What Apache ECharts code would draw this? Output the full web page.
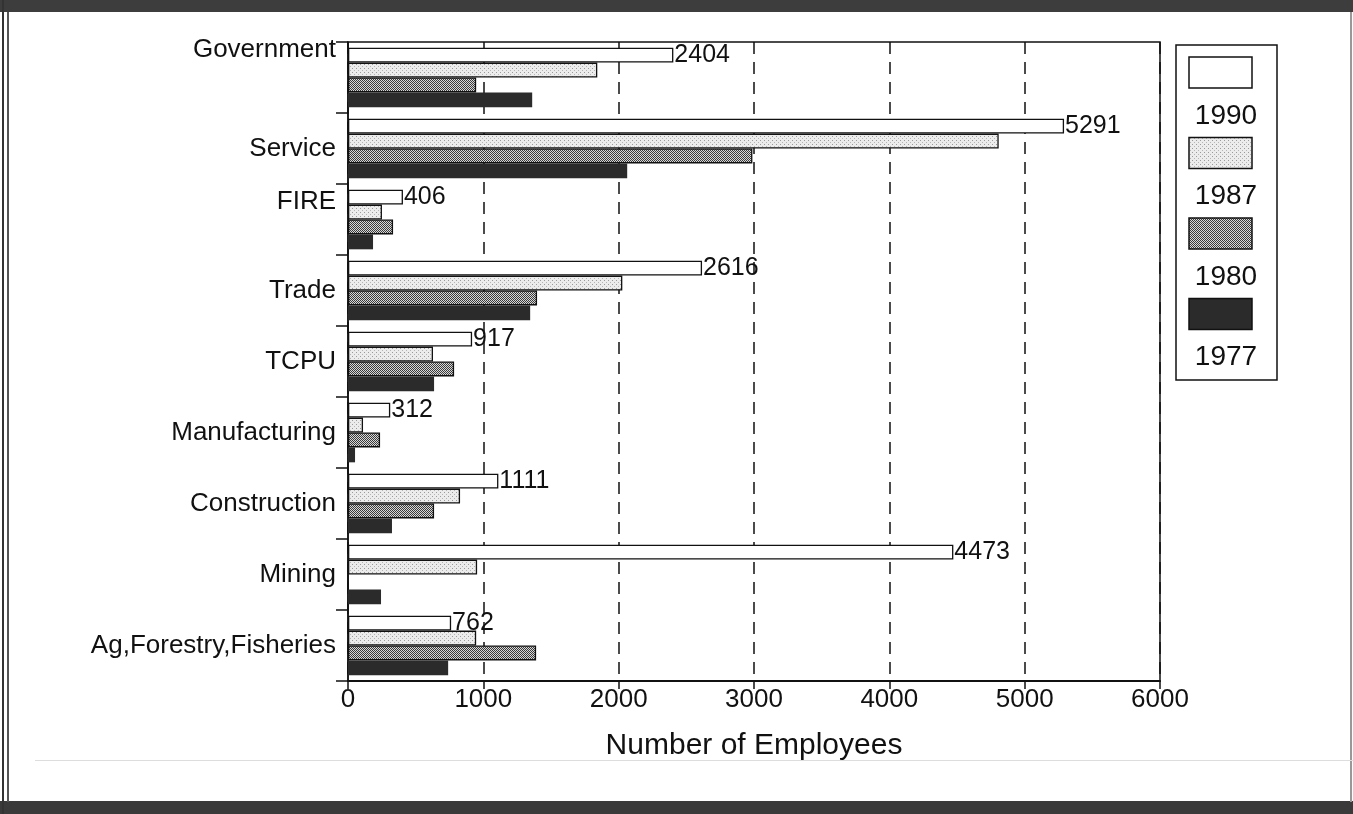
<!DOCTYPE html>
<html>
<head>
<meta charset="utf-8">
<script src="https://cdn.jsdelivr.net/npm/echarts@6/dist/echarts.min.js"></script>
<style>
  html, body { margin: 0; padding: 0; background: #fff; }
  #chart { width: 1353px; height: 814px; }
</style>
</head>
<body>
<div id="chart"></div>
<script>
// categories, bottom to top as drawn on the y axis
var categories = ['Ag,Forestry,Fisheries', 'Mining', 'Construction', 'Manufacturing', 'TCPU', 'Trade', 'FIRE', 'Service', 'Government']
var years = ['1990', '1987', '1980', '1977']
var v1990 = [762, 4473, 1111, 312, 917, 2616, 406, 5291, 2404]
var v1987 = [947, 954, 828, 111, 628, 2027, 251, 4808, 1842]
var v1980 = [1390, 0, 636, 237, 784, 1397, 333, 2988, 947]
var v1977 = [740, 244, 325, 52, 636, 1346, 185, 2063, 1361]
var xTicks = [0, 1000, 2000, 3000, 4000, 5000, 6000]

var font = 'Liberation Sans, Arial, Helvetica, sans-serif'

// little canvas textures for the hatched fills
function makePattern (size, bg, dots) {
  var c = document.createElement('canvas')
  c.width = size
  c.height = size
  var ctx = c.getContext('2d')
  ctx.fillStyle = bg
  ctx.fillRect(0, 0, size, size)
  dots.forEach(function (d) {
    ctx.fillStyle = d[2]
    ctx.fillRect(d[0], d[1], 1, 1)
  })
  return c
}
var dotted = makePattern(4, '#ececec', [[0, 0, '#9a9a9a'], [2, 2, '#b5b5b5']])
var checker = makePattern(2, '#d8d8d8', [[0, 0, '#3a3a3a'], [1, 1, '#3a3a3a']])

var fills = {
  '1990': '#ffffff',
  '1987': { image: dotted, repeat: 'repeat' },
  '1980': { image: checker, repeat: 'repeat' },
  '1977': '#2b2b2b'
}
var values = { '1990': v1990, '1987': v1987, '1980': v1980, '1977': v1977 }

var chart = echarts.init(document.getElementById('chart'))

// first series ends up on top inside each category
var series = years.map(function (y) {
  return {
    name: y,
    type: 'bar',
    barGap: 0,
    barCategoryGap: '16%',
    data: values[y],
    itemStyle: {
      color: fills[y],
      borderColor: '#111',
      borderWidth: y === '1977' ? 0 : 1.3
    },
    label: {
      show: y === '1990',
      position: 'right',
      distance: 1,
      color: '#111',
      fontFamily: font,
      fontSize: 25
    },
    silent: true
  }
})

// hand-drawn legend: swatch above the year, like the original
var legendItems = []
legendItems.push({
  type: 'rect',
  shape: { x: 1176, y: 45, width: 101, height: 335 },
  style: { fill: '#fff', stroke: '#111', lineWidth: 1.5 }
})
years.forEach(function (y, i) {
  var top = 57 + i * 80.5
  legendItems.push({
    type: 'rect',
    shape: { x: 1189, y: top, width: 63, height: 31 },
    style: { fill: fills[y], stroke: '#111', lineWidth: 1.5 }
  })
  legendItems.push({
    type: 'text',
    x: 1226,
    y: top + 59,
    style: {
      text: y,
      fill: '#111',
      font: '28px ' + font,
      textAlign: 'center',
      textVerticalAlign: 'middle'
    }
  })
})

// page frame bits (scan borders)
var frame = [
  { type: 'rect', shape: { x: 0, y: 0, width: 1353, height: 12 }, style: { fill: '#3d3d3d' } },
  { type: 'rect', shape: { x: 0, y: 801, width: 1353, height: 13 }, style: { fill: '#3a3a3a' } },
  { type: 'rect', shape: { x: 2, y: 0, width: 2, height: 814 }, style: { fill: '#333' } },
  { type: 'rect', shape: { x: 7, y: 12, width: 2, height: 790 }, style: { fill: '#555' } },
  { type: 'rect', shape: { x: 1350, y: 12, width: 2, height: 790 }, style: { fill: '#999' } },
  { type: 'rect', shape: { x: 35, y: 760, width: 1318, height: 1 }, style: { fill: '#ddd' } }
]

var option = {
  backgroundColor: '#fff',
  animation: false,
  grid: {
    left: 348,
    right: 193,
    top: 42,
    bottom: 133,
    show: true,
    borderColor: '#111',
    borderWidth: 1.5,
    backgroundColor: 'transparent'
  },
  xAxis: {
    type: 'value',
    min: xTicks[0],
    max: xTicks[xTicks.length - 1],
    interval: 1000,
    name: 'Number of Employees',
    nameLocation: 'middle',
    nameGap: 50,
    nameTextStyle: { color: '#111', fontFamily: font, fontSize: 30 },
    axisLine: { show: true, lineStyle: { color: '#111', width: 2 } },
    axisTick: { show: true, length: 8, lineStyle: { color: '#111', width: 1.5 } },
    axisLabel: {
      color: '#111',
      fontFamily: font,
      fontSize: 26,
      margin: 6,
      formatter: function (v) { return String(v) }
    },
    splitLine: { show: true, lineStyle: { color: '#111', type: [12, 8], width: 1.5 } }
  },
  yAxis: {
    type: 'category',
    data: categories,
    axisLine: { show: true, lineStyle: { color: '#111', width: 1.5 } },
    axisTick: { show: true, length: 12, lineStyle: { color: '#111', width: 1.5 } },
    axisLabel: {
      color: '#111',
      fontFamily: font,
      fontSize: 26,
      margin: 12,
      // in the original, two labels are set higher than the row centre
      formatter: function (v) {
        if (v === 'Government') return '{up2|' + v + '}'
        if (v === 'FIRE') return '{up1|' + v + '}'
        return v
      },
      rich: {
        up2: { fontFamily: font, fontSize: 26, color: '#111', padding: [0, 0, 56, 0] },
        up1: { fontFamily: font, fontSize: 26, color: '#111', padding: [0, 0, 36, 0] }
      }
    },
    splitLine: { show: false }
  },
  series: series,
  graphic: frame.concat(legendItems)
}

chart.setOption(option)
</script>
</body>
</html>
